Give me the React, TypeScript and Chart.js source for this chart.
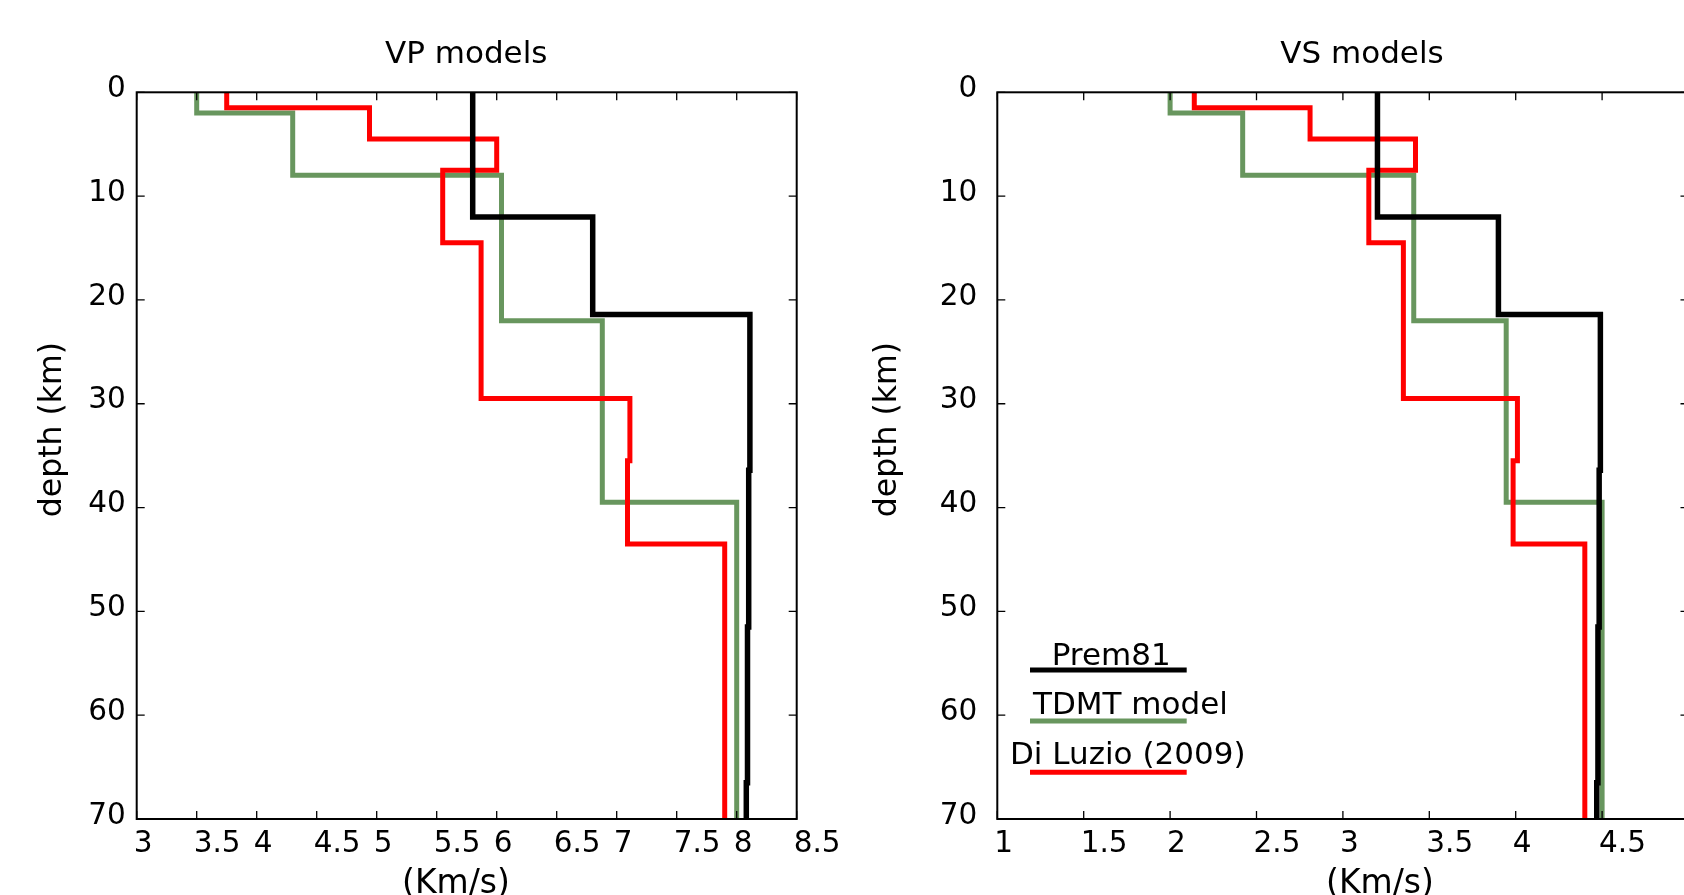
import React, { useEffect, useRef } from 'react';
import { Chart, registerables } from 'chart.js';

Chart.register(...registerables);

// ---------------- data ----------------
const depthTicks = [0, 10, 20, 30, 40, 50, 60, 70];
const vpTicks = [3, 3.5, 4, 4.5, 5, 5.5, 6, 6.5, 7, 7.5, 8, 8.5];
const vsTicks = [1, 1.5, 2, 2.5, 3, 3.5, 4, 4.5, 5];

// layer boundaries (km) and layer velocities (km/s)
const premBounds = [0, 12, 21.4, 36.4, 51.5, 66.5, 70];
const premVp = [5.8, 6.8, 8.11, 8.1, 8.09, 8.08];
const premVs = [3.2, 3.9, 4.49, 4.483, 4.476, 4.469];

const tdmtBounds = [0, 2, 8, 22, 39.5, 70];
const tdmtVp = [3.5, 4.3, 6.04, 6.88, 8.0];
const tdmtVs = [2.0, 2.42, 3.41, 3.945, 4.5];

const luzioBounds = [0, 1.5, 4.5, 7.5, 14.5, 29.5, 35.5, 43.5, 70];
const luzioVp = [3.75, 4.94, 6.0, 5.55, 5.87, 7.11, 7.09, 7.9];
const luzioVs = [2.14, 2.81, 3.42, 3.15, 3.35, 4.01, 3.985, 4.4];

const seriesNames = ['Prem81', 'TDMT model', 'Di Luzio (2009)'];
const seriesColors = ['#000000', '#68965e', '#ff0000'];

// ---------------- helpers ----------------
const FONT = '"DejaVu Sans", "Liberation Sans", sans-serif';

function steps(values: number[], bounds: number[]) {
  const pts: { x: number; y: number }[] = [];
  values.forEach((v, i) => {
    pts.push({ x: v, y: bounds[i] });
    pts.push({ x: v, y: bounds[i + 1] });
  });
  return pts;
}

type PanelCfg = {
  W: number;
  H: number;
  area: { left: number; right: number; top: number; bottom: number };
  xMin: number;
  xMax: number;
  xTicks: number[];
  prem: number[];
  tdmt: number[];
  luzio: number[];
  title: string;
  titleX: number;
  xTitleX: number;
  yTitleX: number;
  yLabelPad: number;
  legend: boolean;
};

const vpPanel: PanelCfg = {
  W: 850, H: 895,
  area: { left: 136.7, right: 796.7, top: 92.3, bottom: 819 },
  xMin: 3, xMax: 8.5, xTicks: vpTicks,
  prem: premVp, tdmt: tdmtVp, luzio: luzioVp,
  title: 'VP models', titleX: 466.2, xTitleX: 456, yTitleX: 61, yLabelPad: 11,
  legend: false,
};

const vsPanel: PanelCfg = {
  W: 860, H: 895,
  area: { left: 147.3, right: 838.5, top: 92.3, bottom: 819 },
  xMin: 1, xMax: 5, xTicks: vsTicks,
  prem: premVs, tdmt: tdmtVs, luzio: luzioVs,
  title: 'VS models', titleX: 512, xTitleX: 530, yTitleX: 46, yLabelPad: 20,
  legend: true,
};

const decorPlugin = {
  id: 'decor',
  afterDraw(chart: any, _args: any, opts: any) {
    const ctx: CanvasRenderingContext2D = chart.ctx;
    const { left, right, top, bottom } = chart.chartArea;
    const xs = chart.scales.x;
    const ys = chart.scales.y;
    ctx.save();
    // inner ticks
    ctx.strokeStyle = '#000';
    ctx.lineWidth = 1.3;
    ctx.beginPath();
    opts.xTicks.forEach((v: number) => {
      const px = xs.getPixelForValue(v);
      ctx.moveTo(px, bottom);
      ctx.lineTo(px, bottom - 8);
      ctx.moveTo(px, top);
      ctx.lineTo(px, top + 8);
    });
    depthTicks.forEach((v) => {
      const py = ys.getPixelForValue(v);
      ctx.moveTo(left, py);
      ctx.lineTo(left + 8, py);
      ctx.moveTo(right, py);
      ctx.lineTo(right - 8, py);
    });
    ctx.stroke();
    // box
    ctx.lineWidth = 2;
    ctx.strokeRect(left, top, right - left, bottom - top);

    // titles
    ctx.fillStyle = '#000';
    ctx.textBaseline = 'alphabetic';
    ctx.textAlign = 'center';
    ctx.font = `31px ${FONT}`;
    ctx.fillText(opts.title, opts.titleX, 62.7);
    ctx.font = `33px ${FONT}`;
    ctx.fillText('(Km/s)', opts.xTitleX, 893);
    ctx.save();
    ctx.translate(opts.yTitleX, 429.6);
    ctx.rotate(-Math.PI / 2);
    ctx.font = `31.5px ${FONT}`;
    ctx.fillText('depth (km)', 0, 0);
    ctx.restore();

    // legend
    if (opts.legend) {
      const lx0 = left + 32.7;
      const lx1 = left + 189.4;
      const lineY = [670, 721, 772.3];
      const textX = [left + 54.4, left + 35.7, left + 12.7];
      const textY = [665, 713.5, 763.5];
      ctx.font = `31px ${FONT}`;
      ctx.textAlign = 'left';
      seriesNames.forEach((name, i) => {
        ctx.fillStyle = '#000';
        ctx.fillText(name, textX[i], textY[i]);
        ctx.strokeStyle = seriesColors[i];
        ctx.lineWidth = 5;
        ctx.beginPath();
        ctx.moveTo(lx0, lineY[i]);
        ctx.lineTo(lx1, lineY[i]);
        ctx.stroke();
      });
    }
    ctx.restore();
  },
};

function makeConfig(p: PanelCfg): any {
  const { area } = p;
  return {
    type: 'scatter',
    data: {
      datasets: [
        {
          label: seriesNames[0],
          data: steps(p.prem, premBounds),
          showLine: true,
          borderColor: seriesColors[0],
          borderWidth: 5.5,
          pointRadius: 0,
          tension: 0,
        },
        {
          label: seriesNames[2],
          data: steps(p.luzio, luzioBounds),
          showLine: true,
          borderColor: seriesColors[2],
          borderWidth: 5,
          pointRadius: 0,
          tension: 0,
        },
        {
          label: seriesNames[1],
          data: steps(p.tdmt, tdmtBounds),
          showLine: true,
          borderColor: seriesColors[1],
          borderWidth: 5,
          pointRadius: 0,
          tension: 0,
        },
      ],
    },
    options: {
      animation: false,
      responsive: false,
      events: [],
      layout: {
        padding: { top: area.top, right: p.W - area.right, left: 0, bottom: 0 },
      },
      plugins: {
        legend: { display: false },
        tooltip: { enabled: false },
        title: { display: false },
        decor: {
          xTicks: p.xTicks,
          title: p.title,
          titleX: p.titleX,
          xTitleX: p.xTitleX,
          yTitleX: p.yTitleX,
          legend: p.legend,
        },
      },
      scales: {
        x: {
          type: 'linear',
          position: 'bottom',
          min: p.xMin,
          max: p.xMax,
          afterBuildTicks: (s: any) => {
            s.ticks = p.xTicks.map((v) => ({ value: v }));
          },
          afterFit: (s: any) => {
            s.height = p.H - area.bottom;
            s.paddingLeft = 0;
            s.paddingRight = 0;
          },
          ticks: {
            align: 'start',
            autoSkip: false,
            maxRotation: 0,
            minRotation: 0,
            padding: 8,
            labelOffset: -3,
            color: '#000',
            font: { family: FONT, size: 29.5 },
            callback: (v: any) => String(v),
          },
          grid: { display: false, drawTicks: false },
          border: { display: false },
        },
        y: {
          type: 'linear',
          reverse: true,
          min: 0,
          max: 70,
          afterBuildTicks: (s: any) => {
            s.ticks = depthTicks.map((v) => ({ value: v }));
          },
          afterFit: (s: any) => {
            s.width = area.left;
            s.paddingTop = 0;
            s.paddingBottom = 0;
          },
          ticks: {
            autoSkip: false,
            padding: p.yLabelPad,
            labelOffset: -3,
            color: '#000',
            font: { family: FONT, size: 29.5 },
            callback: (v: any) => String(v),
          },
          grid: { display: false, drawTicks: false },
          border: { display: false },
        },
      },
    },
    plugins: [decorPlugin],
  };
}

export default function App() {
  const leftRef = useRef<HTMLCanvasElement>(null);
  const rightRef = useRef<HTMLCanvasElement>(null);

  useEffect(() => {
    const c1 = new Chart(leftRef.current as HTMLCanvasElement, makeConfig(vpPanel));
    const c2 = new Chart(rightRef.current as HTMLCanvasElement, makeConfig(vsPanel));
    return () => {
      c1.destroy();
      c2.destroy();
    };
  }, []);

  return (
    <div
      style={{
        position: 'fixed',
        left: 0,
        top: 0,
        width: 1684,
        height: 895,
        overflow: 'hidden',
        background: '#ffffff',
      }}
    >
      <canvas
        ref={leftRef}
        width={vpPanel.W}
        height={vpPanel.H}
        style={{ position: 'absolute', left: 0, top: 0, width: vpPanel.W, height: vpPanel.H }}
      />
      <canvas
        ref={rightRef}
        width={vsPanel.W}
        height={vsPanel.H}
        style={{ position: 'absolute', left: 850, top: 0, width: vsPanel.W, height: vsPanel.H }}
      />
    </div>
  );
}
